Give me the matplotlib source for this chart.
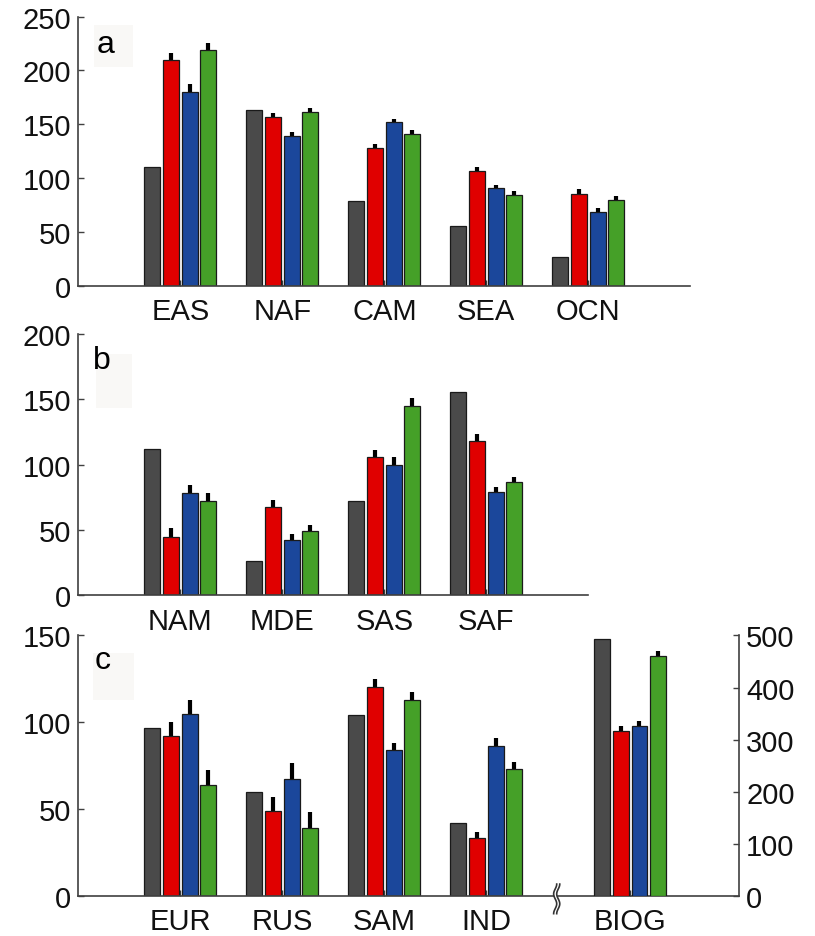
import numpy as np
import matplotlib
matplotlib.use("Agg")
import matplotlib.pyplot as plt
from matplotlib.patches import Rectangle

plt.rcParams['font.family'] = ['Liberation Sans', 'DejaVu Sans']

# panel a
regions_a = ['EAS', 'NAF', 'CAM', 'SEA', 'OCN']
obs_a = [110.5, 163.0, 78.5, 55.3, 26.6]
red_a = [209.5, 156.8, 127.5, 106.8, 85.5]
blue_a = [180.0, 138.6, 151.6, 90.5, 68.2]
green_a = [218.5, 161.7, 141.1, 84.0, 79.4]
err_red_a = [7.0, 4.0, 3.7, 3.4, 4.0]
err_blue_a = [7.0, 3.7, 3.5, 3.0, 4.4]
err_green_a = [6.5, 3.7, 3.7, 4.3, 4.0]

# panel b
regions_b = ['NAM', 'MDE', 'SAS', 'SAF']
obs_b = [111.6, 26.3, 71.9, 155.3]
red_b = [44.9, 67.6, 105.7, 118.2]
blue_b = [78.0, 42.6, 99.8, 79.0]
green_b = [71.9, 49.0, 144.7, 86.4]
err_red_b = [6.4, 5.3, 5.3, 4.8]
err_blue_b = [6.4, 4.6, 5.7, 3.8]
err_green_b = [6.6, 4.8, 5.8, 4.3]

# panel c (left axis)
regions_c = ['EUR', 'RUS', 'SAM', 'IND']
obs_c = [96.7, 60.1, 104.0, 42.0]
red_c = [92.1, 48.8, 120.1, 33.5]
blue_c = [104.6, 67.4, 83.9, 86.4]
green_c = [64.0, 39.3, 113.0, 73.3]
err_red_c = [8.0, 8.2, 4.8, 3.6]
err_blue_c = [8.4, 9.0, 4.0, 4.4]
err_green_c = [8.6, 9.1, 4.6, 3.9]

# panel c (right axis, biogenic)
region_biog = ['BIOG']
obs_biog = [493.0]
red_biog = [317.0]
blue_biog = [327.0]
green_biog = [460.0]
err_red_biog = [9.0]
err_blue_biog = [8.5]
err_green_biog = [9.0]

colors = ['#4a4a4a', '#e00000', '#1b479b', '#45a028']
width = 0.155
step = 0.183
fs = 21
axcol = '#404040'


def style(ax, ymax, ystep, xmax):
    ax.set_xlim(0, xmax)
    ax.set_ylim(0, ymax)
    ax.set_yticks(np.arange(0, ymax + 1, ystep))
    ax.patch.set_visible(False)
    for s in ['top', 'right']:
        ax.spines[s].set_visible(False)
    for s in ['left', 'bottom']:
        ax.spines[s].set_color(axcol)
        ax.spines[s].set_linewidth(1.2)
    ax.set_axisbelow(True)
    ax.tick_params(direction='in', length=4, width=1, color=axcol,
                   labelsize=fs, labelcolor='#111111')
    ax.tick_params(axis='x', pad=8)
    ax.tick_params(axis='y', pad=5)


def draw_groups(ax, xs, series, errs):
    xs = np.asarray(xs, dtype=float)
    for k, vals in enumerate(series):
        pos = xs + (k - 1.5) * step
        ax.bar(pos, vals, width, color=colors[k], edgecolor='#1a1a1a',
               linewidth=0.9, zorder=2)
        if k > 0:
            e = errs[k - 1]
            ax.errorbar(pos, vals, yerr=[np.zeros(len(e)), e], fmt='none',
                        ecolor='black', elinewidth=3.0, capsize=0, zorder=1.5)


fig = plt.figure(figsize=(8.15, 9.37), dpi=100)

# panel letters on faint boxes, drawn under the axes
boxes = [(0.1153, 0.9274, 0.0479, 0.0448),
         (0.1178, 0.5635, 0.0442, 0.0576),
         (0.1141, 0.2519, 0.0503, 0.0502)]
letters = [('a', 0.119, 0.9434), ('b', 0.1141, 0.6062), ('c', 0.1166, 0.286)]
for (bx, by, bw, bh), (lab, tx, ty) in zip(boxes, letters):
    fig.add_artist(Rectangle((bx, by), bw, bh, transform=fig.transFigure,
                             facecolor='#f9f8f6', edgecolor='none', zorder=-1))
    fig.text(tx, ty, lab, fontsize=23, va='baseline', ha='left', color='black')

ax_a = fig.add_axes([0.0961, 0.6940, 0.7509, 0.2873])
xa = np.arange(1, len(regions_a) + 1)
draw_groups(ax_a, xa, [obs_a, red_a, blue_a, green_a],
            [err_red_a, err_blue_a, err_green_a])
style(ax_a, 250, 50, 6)
ax_a.set_xticks(xa)
ax_a.set_xticklabels(regions_a)

ax_b = fig.add_axes([0.0961, 0.3634, 0.6258, 0.2796])
xb = np.arange(1, len(regions_b) + 1)
draw_groups(ax_b, xb, [obs_b, red_b, blue_b, green_b],
            [err_red_b, err_blue_b, err_green_b])
style(ax_b, 200, 50, 5)
ax_b.set_xticks(xb)
ax_b.set_xticklabels(regions_b)

ax_c = fig.add_axes([0.0961, 0.0424, 0.8110, 0.2785])
xc = np.arange(1, len(regions_c) + 1)
x_biog = [5.41]
draw_groups(ax_c, xc, [obs_c, red_c, blue_c, green_c],
            [err_red_c, err_blue_c, err_green_c])
style(ax_c, 150, 50, 6.48)
ax_c.set_xticks(list(xc) + x_biog)
ax_c.set_xticklabels(regions_c + region_biog)

ax_r = ax_c.twinx()
ax_r.patch.set_visible(False)
draw_groups(ax_r, x_biog, [obs_biog, red_biog, blue_biog, green_biog],
            [err_red_biog, err_blue_biog, err_green_biog])
ax_r.set_ylim(0, 500)
ax_r.set_xlim(0, 6.48)
ax_r.set_yticks(np.arange(0, 501, 100))
for s in ['top', 'left', 'bottom']:
    ax_r.spines[s].set_visible(False)
ax_r.spines['right'].set_color(axcol)
ax_r.spines['right'].set_linewidth(1.2)
ax_r.tick_params(direction='in', length=4, width=1, color=axcol,
                 labelsize=fs, labelcolor='#111111', pad=5)

# axis break between regional groups and BIOG
xb0 = 4.69
t = np.linspace(-1, 1, 60)
yy = 7.0 - 17.0 * (t + 1) / 2
wave = 0.015 * np.sin(np.pi * 1.5 * t)
ax_c.fill_betweenx(yy, xb0 - 0.015 + wave, xb0 + 0.015 + wave,
                   color='white', clip_on=False, zorder=4.5, lw=0)
for dx in (-0.015, 0.015):
    ax_c.plot(xb0 + dx + wave, yy, color='#333333', lw=1.2,
              clip_on=False, zorder=5)

fig.savefig('out.png', dpi=100)
